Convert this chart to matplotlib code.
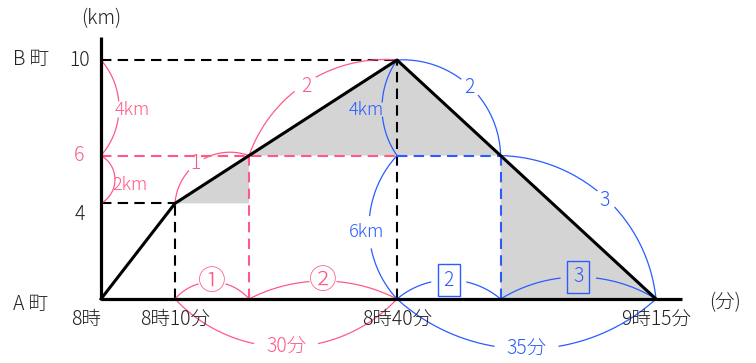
import matplotlib
matplotlib.use("Agg")
import matplotlib.pyplot as plt
import numpy as np

plt.rcParams["font.family"] = ["Noto Sans CJK JP", "DejaVu Sans"]
plt.rcParams["font.weight"] = "light"

PINK = "#ff5a85"
BLUE = "#2a5cff"
GRAY = "#d4d4d4"
INK = "#222222"

# minutes after 8:00 / km from A town
route_t = [0, 10, 40, 75]
route_d = [0, 4, 10, 0]

x_ticks = [0, 10, 40, 75]
x_labels = ["8時", "8時10分", "8時40分", "9時15分"]
y_ticks = [4, 6, 10]
y_labels = ["4", "6", "10"]
y_colors = [INK, PINK, INK]

shaded = [
    [(10, 4), (20, 6), (20, 4)],
    [(20, 6), (40, 10), (40, 6)],
    [(40, 10), (54, 6), (40, 6)],
    [(54, 6), (75, 0), (54, 0)],
]

guides = [
    ((0, 10), (40, 10), "black"),
    ((0, 4), (10, 4), "black"),
    ((10, 0), (10, 4), "black"),
    ((40, 0), (40, 10), "black"),
    ((0, 6), (40, 6), PINK),
    ((20, 0), (20, 6), PINK),
    ((40, 6), (54, 6), BLUE),
    ((54, 0), (54, 6), BLUE),
]

# start, end, label, colour
arc_ends = [
    ((0, 10), (0, 6), "4km", PINK),
    ((0, 6), (0, 4), "2km", PINK),
    ((10, 4), (20, 6), "1", PINK),
    ((20, 6), (40, 10), "2", PINK),
    ((10, 0), (20, 0), "①", PINK),
    ((20, 0), (40, 0), "②", PINK),
    ((10, 0), (40, 0), "30分", PINK),
    ((40, 10), (40, 6), "4km", BLUE),
    ((40, 6), (40, 0), "6km", BLUE),
    ((40, 10), (54, 6), "2", BLUE),
    ((54, 6), (75, 0), "3", BLUE),
    ((40, 0), (54, 0), "2", BLUE),
    ((54, 0), (75, 0), "3", BLUE),
    ((40, 0), (75, 0), "35分", BLUE),
]
# bulge (px), label offset (px, screen), gap radius (px), boxed, font size
arc_style = [
    (18, (13, 2), 16, False, 13),
    (14, (15, 5), 15, False, 13),
    (22, (-5, 2), 10, False, 14),
    (30, (0, 4), 13, False, 14),
    (17, (0, 0), 14, False, 20),
    (18, (0, 0), 14, False, 20),
    (-48, (0, 0), 32, False, 14),
    (-15, (-16, 2), 18, False, 13),
    (-28, (-2, 5), 17, False, 13),
    (30, (0, 2), 12, False, 14),
    (40, (-1, 3), 12, False, 14),
    (19, (0, 0), 18, True, 14),
    (22, (0, 0), 18, True, 14),
    (-50, (0, 0), 32, False, 14),
]


def draw_arc(ax, p1, p2, sag, color, label, off, gap, boxed, fs):
    tr = ax.transData
    a = tr.transform(p1)
    b = tr.transform(p2)
    mid = (a + b) / 2
    half = np.hypot(*(b - a)) / 2
    t = (b - a) / (2 * half)
    n = np.array([-t[1], t[0]])
    if sag < 0:
        n = -n
    s = abs(sag)
    r = (half ** 2 + s ** 2) / (2 * s)
    c = mid + n * (s - r)
    phi = np.arctan2(half, r - s)
    th = np.linspace(-phi, phi, 300)
    pts = c + r * (np.cos(th)[:, None] * n + np.sin(th)[:, None] * t)
    lab = mid + n * s + np.array([off[0], -off[1]])
    far = np.hypot(*(pts - lab).T) > gap
    dpts = tr.inverted().transform(pts)
    dpts[~far] = np.nan
    ax.plot(dpts[:, 0], dpts[:, 1], color=color, lw=0.9, zorder=3)
    lx, ly = tr.inverted().transform(lab)
    bbox = None
    if boxed:
        bbox = dict(boxstyle="square,pad=0.3", fc="none", ec=color, lw=1.0)
    ax.text(lx, ly, label, color=color, fontsize=fs, ha="center",
            va="center", bbox=bbox, zorder=4)


fig = plt.figure(figsize=(7.56, 3.63), dpi=100)
ax = fig.add_axes([0, 0, 1, 1])
ax.set_xlim(-101 / 7.4, (756 - 101) / 7.4)
ax.set_ylim(-(363 - 299) / 23.9, 299 / 23.9)
ax.axis("off")

for tri in shaded:
    ax.fill([p[0] for p in tri], [p[1] for p in tri], color=GRAY, lw=0, zorder=1)

for p1, p2, col in guides:
    ax.plot([p1[0], p2[0]], [p1[1], p2[1]], color=col, lw=1.5,
            ls=(0, (5, 3)), zorder=2)

# axes and route
ax.plot([0, 78.5], [0, 0], color="black", lw=2.3, zorder=5, solid_capstyle="butt")
ax.plot([0, 0], [0, 10.96], color="black", lw=2.3, zorder=5, solid_capstyle="butt")
ax.plot(route_t, route_d, color="black", lw=2.2, zorder=5)

for (p1, p2, lab, col), (sag, off, gap, boxed, fs) in zip(arc_ends, arc_style):
    draw_arc(ax, p1, p2, sag, col, lab, off, gap, boxed, fs)

for x, lab in zip(x_ticks, x_labels):
    ax.text(x - (2.0 if x == 0 else 0), -0.85, lab, ha="center", va="center",
            fontsize=14, color=INK)
for y, lab, col in zip(y_ticks, y_labels, y_colors):
    ax.text(-2.9, y - (0.45 if y == 4 else 0), lab, ha="center", va="center",
            fontsize=14, color=col)

ax.text(-9.5, 10, "B 町", ha="center", va="center", fontsize=14, color=INK)
ax.text(-9.5, -0.25, "A 町", ha="center", va="center", fontsize=14, color=INK)
ax.text(0, 11.75, "(km)", ha="center", va="center", fontsize=14, color=INK)
ax.text(84.3, -0.17, "(分)", ha="center", va="center", fontsize=14, color=INK)

fig.savefig("out.png", dpi=100)
